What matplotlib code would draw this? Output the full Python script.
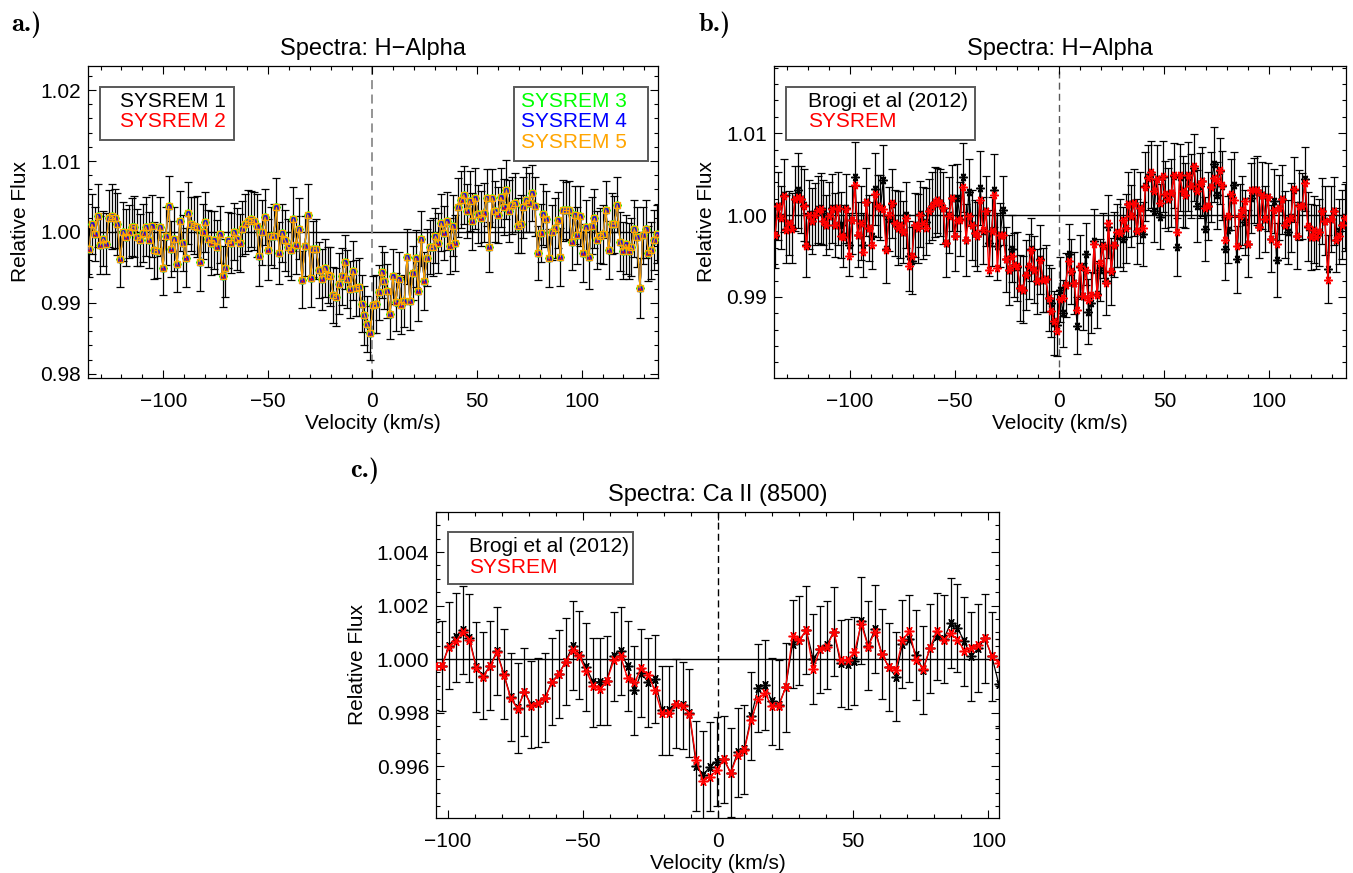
"""
Relative flux around H-alpha and Ca II (8500) in velocity space,
SYSREM-cleaned spectra compared with the Brogi et al (2012) reduction.
"""

import numpy as np
import matplotlib.pyplot as plt
from matplotlib.patches import Rectangle
from matplotlib.ticker import MultipleLocator

plt.rcParams['font.family'] = ['Liberation Sans', 'DejaVu Sans']

# ---- H-alpha data (panels a and b) ----
velocity_ha = np.linspace(-135.5, 136.0, 201)   # km/s

flux_ha_sysrem = [
    0.99761, 1.00108, 0.99965, 1.00231, 0.99814, 0.99904, 0.99831, 1.00190, 1.00222, 1.00190,
    1.00108, 0.99619, 1.00006, 0.99925, 1.00006, 1.00067, 1.00075, 0.99925, 0.99884, 0.99986,
    1.00075, 0.99884, 1.00084, 0.99741, 0.99733, 1.00075, 0.99496, 0.99937, 1.00361, 0.99761,
    0.99904, 0.99545, 1.00157, 0.99843, 0.99639, 1.00263, 1.00108, 1.00088, 1.00075, 0.99578,
    1.00006, 1.00141, 0.99904, 0.99843, 0.99884, 0.99790, 0.99965, 0.99374, 0.99496, 0.99884,
    0.99843,
    1.00006, 0.99904, 0.99843, 1.00047, 1.00108, 1.00157, 1.00182, 1.00149, 1.00088, 0.99659,
    0.99994, 1.00210, 0.99749, 0.99945, 0.99945, 1.00345, 0.99700, 0.99986, 0.99884, 0.99782,
    0.99741, 1.00182, 0.99814, 1.00047, 0.99325, 0.99802, 1.00239, 0.99353, 0.99761, 0.99761,
    0.99463, 0.99333, 0.99496, 0.99394, 0.99374, 0.99109, 0.99088, 0.99272, 0.99374, 0.99578,
    0.99333, 0.99190, 0.99455, 0.99210, 0.99219, 0.98986, 0.98823, 0.98700, 0.98578, 0.98974,
    0.98986,
    0.99149, 0.99435, 0.99312, 0.99170, 0.98843, 0.99374, 0.99006, 0.99333, 0.98966, 0.99027,
    0.99651, 0.99027, 0.99415, 0.99627, 0.99170, 0.99904, 0.99312, 0.99639, 0.99790, 0.99782,
    0.99945, 0.99843, 1.00129, 0.99986, 1.00149, 0.99802, 1.00088, 0.99843, 1.00345, 1.00455,
    1.00524, 1.00292, 1.00435, 1.00149, 1.00475, 1.00251, 1.00190, 1.00271, 1.00483, 0.99790,
    1.00483, 1.00292, 1.00239, 1.00488, 1.00353, 1.00598, 1.00292, 1.00373,
    1.00414, 1.00088, 1.00108, 1.00345, 1.00455, 1.00414, 1.00549, 1.00361, 0.99700, 0.99986,
    1.00251, 1.00182, 0.99627, 0.99994, 1.00059, 1.00169, 0.99651, 1.00304, 1.00304, 1.00304,
    0.99855, 1.00239, 0.99953, 1.00222, 0.99708, 1.00067, 0.99651, 1.00088, 1.00190, 0.99884,
    0.99945, 0.99965, 1.00312, 0.99749, 1.00116, 1.00108, 1.00386, 0.99863, 0.99733, 0.99823,
    0.99733, 0.99790, 1.00047, 0.99925, 0.99210, 0.99953, 1.00047, 0.99700, 0.99741, 0.99884,
    0.99965,
]

flux_ha_brogi = [
    0.9975, 1.0011, 0.9997, 1.0024, 0.9983, 0.9990, 0.9984, 1.0020, 1.0030, 1.0019,
    1.0012, 0.9963, 1.0001, 0.9993, 1.0001, 1.0007, 1.0008, 1.0003, 0.9988, 0.9999,
    1.0008, 0.9988, 1.0008, 0.9988, 0.9974, 1.0008, 0.9964, 0.9994, 1.0046, 0.9976,
    0.9990, 0.9963, 1.0016, 0.9984, 0.9975, 1.0032, 1.0011, 1.0009, 1.0043, 0.9958,
    0.9995, 1.0014, 0.9990, 0.9984, 0.9988, 0.9979, 1.0000, 0.9950, 0.9944, 0.9988,
    0.9984,
    1.0001, 0.9990, 0.9992, 1.0005, 1.0011, 1.0016, 1.0018, 1.0015, 1.0009, 0.9966,
    1.0000, 1.0021, 0.9975, 1.0021, 0.9995, 1.0046, 0.9970, 1.0028, 0.9988, 0.9978,
    0.9974, 1.0033, 0.9981, 1.0005, 0.9966, 0.9980, 1.0030, 0.9962, 0.9976, 1.0006,
    0.9946, 0.9933, 0.9959, 0.9939, 0.9937, 0.9911, 0.9909, 0.9927, 0.9937, 0.9958,
    0.9933, 0.9919, 0.9946, 0.9921, 0.9922, 0.9899, 0.9893, 0.9868, 0.9866, 0.9909,
    0.9880,
    0.9915, 0.9952, 0.9931, 0.9917, 0.9865, 0.9937, 0.9901, 0.9952, 0.9882, 0.9893,
    0.9968, 0.9903, 0.9933, 0.9963, 0.9920, 0.9986, 0.9931, 0.9964, 0.9975, 0.9978,
    0.9971, 0.9984, 1.0013, 0.9999, 1.0015, 0.9980, 1.0009, 0.9977, 1.0035, 1.0046,
    1.0050, 1.0005, 1.0044, 0.9998, 1.0047, 1.0025, 1.0019, 1.0027, 1.0048, 0.9961,
    1.0046, 1.0029, 1.0024, 1.0047, 1.0035, 1.0058, 1.0011, 1.0036,
    1.0041, 0.9983, 1.0011, 1.0034, 1.0062, 1.0024, 1.0054, 1.0036, 0.9959, 0.9982,
    1.0025, 1.0037, 0.9946, 0.9999, 1.0006, 0.9991, 0.9965, 1.0021, 1.0030, 1.0030,
    0.9986, 1.0024, 0.9995, 1.0022, 0.9971, 1.0017, 0.9945, 1.0009, 1.0019, 0.9988,
    0.9979, 0.9997, 1.0031, 0.9975, 1.0012, 1.0011, 1.0044, 0.9986, 0.9973, 0.9982,
    0.9973, 0.9979, 1.0005, 0.9993, 0.9934, 0.9995, 1.0005, 0.9970, 0.9980, 0.9988,
    0.9997,
]

err_ha = [
    0.0040, 0.0042, 0.0038, 0.0045, 0.0041, 0.0039, 0.0043, 0.0040, 0.0046, 0.0041,
    0.0044, 0.0039, 0.0042, 0.0040, 0.0038, 0.0041, 0.0043, 0.0040, 0.0037, 0.0041,
    0.0042, 0.0039, 0.0044, 0.0040, 0.0038, 0.0042, 0.0039, 0.0041, 0.0043, 0.0040,
    0.0045, 0.0039, 0.0042, 0.0040, 0.0041, 0.0044, 0.0038, 0.0040, 0.0043, 0.0041,
    0.0039, 0.0042, 0.0040, 0.0045, 0.0041, 0.0038, 0.0040, 0.0043, 0.0041, 0.0039,
    0.0042, 0.0040, 0.0044, 0.0041, 0.0039, 0.0042, 0.0043, 0.0040, 0.0041, 0.0044,
    0.0042, 0.0046, 0.0040, 0.0043, 0.0041, 0.0045, 0.0042, 0.0044, 0.0041, 0.0043,
    0.0040, 0.0042, 0.0045, 0.0041, 0.0043, 0.0040, 0.0042, 0.0044, 0.0041, 0.0039,
    0.0042, 0.0040, 0.0043, 0.0041, 0.0039, 0.0042, 0.0040, 0.0041, 0.0043, 0.0040,
    0.0038, 0.0041, 0.0040, 0.0042, 0.0039, 0.0041, 0.0040, 0.0042, 0.0039, 0.0038,
    0.0040, 0.0041, 0.0039, 0.0037, 0.0040, 0.0038, 0.0035, 0.0039, 0.0041, 0.0038,
    0.0040, 0.0037, 0.0039, 0.0041, 0.0038, 0.0040, 0.0042, 0.0039, 0.0041, 0.0040,
    0.0038, 0.0041, 0.0039, 0.0042, 0.0040, 0.0038, 0.0041, 0.0040, 0.0043, 0.0039,
    0.0042, 0.0040, 0.0041, 0.0038, 0.0042, 0.0040, 0.0043, 0.0041, 0.0039, 0.0042,
    0.0040, 0.0035, 0.0041, 0.0043, 0.0040, 0.0042, 0.0039, 0.0041, 0.0044, 0.0040,
    0.0042, 0.0039, 0.0041, 0.0043, 0.0046, 0.0041, 0.0040, 0.0042, 0.0038, 0.0041,
    0.0043, 0.0040, 0.0041, 0.0039, 0.0042, 0.0040, 0.0041, 0.0043, 0.0040, 0.0042,
    0.0039, 0.0041, 0.0040, 0.0042, 0.0041, 0.0039, 0.0045, 0.0040, 0.0042, 0.0041,
    0.0039, 0.0042, 0.0040, 0.0041, 0.0043, 0.0040, 0.0039, 0.0042, 0.0040, 0.0041,
    0.0039, 0.0041, 0.0040, 0.0042, 0.0042, 0.0040, 0.0041, 0.0039, 0.0040, 0.0042,
    0.0041,
]

# SYSREM iterations 1-5 in panel a overlap almost perfectly
sysrem_labels = ['SYSREM 1', 'SYSREM 2', 'SYSREM 3', 'SYSREM 4', 'SYSREM 5']
sysrem_colors = ['black', 'red', '#00ff00', 'blue', 'orange']
sysrem_markers = [(6, 2, 90), (6, 2, 90), 'D', '^', 's']
sysrem_runs = [flux_ha_sysrem] * 5

# ---- Ca II (8500) data (panel c) ----
velocity_ca = np.linspace(-104.75, 103.8, 83)   # km/s

flux_ca_sysrem = [
    0.99975,
    0.99975, 1.00045, 1.00066, 1.00100, 1.00072, 0.99966, 0.99935, 0.99973, 1.00025, 0.99941,
    0.99854, 0.99814, 0.99878, 0.99825, 0.99835, 0.99854, 0.99913, 0.99944, 0.99991, 1.00035,
    1.00010, 0.99954, 0.99900, 0.99888, 0.99920, 0.99995, 1.00010,
    0.99929, 0.99913, 0.99965, 0.99941, 0.99883, 0.99798, 0.99798, 0.99831, 0.99825, 0.99796,
    0.99621, 0.99545, 0.99561, 0.99584, 0.99626, 0.99574, 0.99642, 0.99661, 0.99773, 0.99850,
    0.99873, 0.99823, 0.99825, 0.99894, 1.00085, 1.00070, 1.00109,
    0.99963, 1.00037, 1.00045, 1.00103, 0.99998, 0.99998, 1.00025, 1.00131, 1.00047, 1.00103,
    1.00019, 0.99970, 0.99960, 1.00070, 1.00106, 0.99998, 0.99963, 1.00041, 1.00106, 1.00072,
    1.00097, 1.00072, 1.00032, 1.00041, 1.00052, 1.00078, 1.00012, 0.99985,
]

flux_ca_brogi = [
    0.99975,
    0.99975, 1.00050, 1.00081, 1.00109, 1.00078, 0.99970, 0.99938, 0.99975, 1.00029, 0.99945,
    0.99858, 0.99817, 0.99878, 0.99829, 0.99837, 0.99856, 0.99916, 0.99945, 0.99991, 1.00050,
    1.00016, 0.99970, 0.99913, 0.99916, 0.99920, 1.00010, 1.00029,
    0.99973, 0.99883, 0.99948, 0.99913, 0.99925, 0.99808, 0.99808, 0.99833, 0.99828, 0.99798,
    0.99602, 0.99567, 0.99598, 0.99617, 0.99626, 0.99576, 0.99651, 0.99663, 0.99786, 0.99892,
    0.99903, 0.99842, 0.99829, 0.99894, 1.00057, 1.00070, 1.00109,
    1.00000, 1.00037, 1.00053, 1.00103, 0.99984, 0.99982, 0.99994, 1.00143, 1.00050, 1.00112,
    1.00019, 0.99970, 0.99935, 1.00057, 1.00076, 1.00016, 0.99958, 1.00041, 1.00085, 1.00075,
    1.00134, 1.00116, 1.00066, 1.00010, 1.00041, 1.00078, 1.00010, 0.99908,
]

err_ca = [
    0.00165, 0.00168, 0.00163, 0.00166, 0.00165, 0.00164, 0.00167, 0.00162, 0.00166, 0.00165,
    0.00168, 0.00164, 0.00169, 0.00165, 0.00163, 0.00166, 0.00167, 0.00164, 0.00165, 0.00162,
    0.00166, 0.00165, 0.00164, 0.00167, 0.00163, 0.00165, 0.00166, 0.00164, 0.00168, 0.00165,
    0.00163, 0.00166, 0.00164, 0.00167, 0.00165, 0.00166, 0.00163, 0.00165, 0.00168, 0.00164,
    0.00166, 0.00165, 0.00163, 0.00167, 0.00165, 0.00166, 0.00164, 0.00165, 0.00167, 0.00163,
    0.00166, 0.00165, 0.00164, 0.00166, 0.00165, 0.00167, 0.00163, 0.00165, 0.00166, 0.00164,
    0.00168, 0.00165, 0.00163, 0.00166, 0.00165, 0.00167, 0.00164, 0.00166, 0.00165, 0.00163,
    0.00167, 0.00165, 0.00166, 0.00164, 0.00165, 0.00168, 0.00163, 0.00166, 0.00165, 0.00164,
    0.00166, 0.00165, 0.00167,
]

ASTER = (6, 2, 90)   # IDL-like asterisk symbol


def idl_axes(ax, xlim, ylim, ymajor, yminor, title):
    ax.set_xlim(*xlim)
    ax.set_ylim(*ylim)
    ax.xaxis.set_major_locator(MultipleLocator(50))
    ax.xaxis.set_minor_locator(MultipleLocator(10))
    ax.yaxis.set_major_locator(MultipleLocator(ymajor))
    ax.yaxis.set_minor_locator(MultipleLocator(yminor))
    ax.ticklabel_format(axis='y', useOffset=False)
    ax.tick_params(which='both', direction='in', top=True, right=True, width=0.8)
    ax.tick_params(which='major', length=5.5, labelsize=15)
    ax.tick_params(axis='x', which='major', pad=10)
    ax.tick_params(axis='y', which='major', pad=5)
    ax.tick_params(which='minor', length=3)
    for sp in ax.spines.values():
        sp.set_linewidth(0.9)
    ax.set_xlabel('Velocity (km/s)', fontsize=15, labelpad=2)
    ax.set_ylabel('Relative Flux', fontsize=15, labelpad=7)
    ax.set_title(title, fontsize=17, pad=8)
    ax.axhline(1.0, color='black', lw=1.0, zorder=1)


def text_box(ax, x0, x1, y0, y1, tx, entries):
    ax.add_patch(Rectangle((x0, y0), x1 - x0, y1 - y0, transform=ax.transAxes,
                           facecolor='white', edgecolor='0.35', lw=1.4, zorder=6))
    for label, color, ty in entries:
        ax.text(tx, ty, label, color=color, fontsize=15, transform=ax.transAxes,
                ha='left', va='center', zorder=7)


fig = plt.figure(figsize=(13.53, 8.73), dpi=100)
ax_a = fig.add_axes([0.06504, 0.56701, 0.42129, 0.35739])
ax_b = fig.add_axes([0.57206, 0.56701, 0.42276, 0.35739])
ax_c = fig.add_axes([0.32225, 0.06300, 0.41611, 0.35052])

# panel a: SYSREM iterations
idl_axes(ax_a, (-136.0, 136.5), (0.9794, 1.0234), 0.01, 0.002, 'Spectra: H\u2212Alpha')
ax_a.axvline(0, color='0.55', ls=(0, (5, 3)), lw=1.3, zorder=1)
ax_a.errorbar(velocity_ha, sysrem_runs[0], yerr=err_ha, fmt='none', ecolor='black',
              elinewidth=0.9, capsize=3, capthick=0.9, zorder=2)
for flux, color, marker in zip(sysrem_runs, sysrem_colors, sysrem_markers):
    filled = marker == ASTER
    ax_a.plot(velocity_ha, flux, color=color, lw=0.9, marker=marker,
              markersize=5 if filled else 4.5, markeredgewidth=1.0,
              markerfacecolor=color if filled else 'none', zorder=3)
text_box(ax_a, 0.021, 0.256, 0.763, 0.933, 0.056,
         [(sysrem_labels[0], sysrem_colors[0], 0.886),
          (sysrem_labels[1], sysrem_colors[1], 0.8215)])
text_box(ax_a, 0.747, 0.982, 0.696, 0.933, 0.760,
         [(sysrem_labels[2], sysrem_colors[2], 0.886),
          (sysrem_labels[3], sysrem_colors[3], 0.8215),
          (sysrem_labels[4], sysrem_colors[4], 0.755)])

# panel b: Brogi et al vs SYSREM, H-alpha
idl_axes(ax_b, (-136.0, 136.5), (0.9801, 1.0182), 0.01, 0.002, 'Spectra: H\u2212Alpha')
ax_b.axvline(0, color='0.35', ls=(0, (5, 3)), lw=1.0, zorder=1)
ax_b.errorbar(velocity_ha, flux_ha_brogi, yerr=err_ha, fmt='none', ecolor='black',
              elinewidth=0.9, capsize=3, capthick=0.9, zorder=2)
ax_b.plot(velocity_ha, flux_ha_brogi, color='black', lw=0.9, marker=ASTER,
          markersize=6, markeredgewidth=1.1, zorder=3)
ax_b.plot(velocity_ha, flux_ha_sysrem, color='red', lw=1.0, marker=ASTER,
          markersize=6, markeredgewidth=1.1, zorder=4)
text_box(ax_b, 0.021, 0.351, 0.763, 0.933, 0.059,
         [('Brogi et al (2012)', 'black', 0.886), ('SYSREM', 'red', 0.8215)])

# panel c: Brogi et al vs SYSREM, Ca II
idl_axes(ax_c, (-104.4, 103.9), (0.99406, 1.0055), 0.002, 0.0005, 'Spectra: Ca II (8500)')
ax_c.axvline(0, color='black', ls=(0, (5, 3)), lw=1.0, zorder=1)
ax_c.errorbar(velocity_ca, flux_ca_brogi, yerr=err_ca, fmt='none', ecolor='black',
              elinewidth=0.9, capsize=3, capthick=0.9, zorder=2)
ax_c.plot(velocity_ca, flux_ca_brogi, color='black', lw=0.9, marker=ASTER,
          markersize=7, markeredgewidth=1.1, zorder=3)
ax_c.plot(velocity_ca, flux_ca_sysrem, color='red', lw=1.0, marker=ASTER,
          markersize=7, markeredgewidth=1.1, zorder=4)
text_box(ax_c, 0.0213, 0.35, 0.765, 0.935, 0.0586,
         [('Brogi et al (2012)', 'black', 0.887), ('SYSREM', 'red', 0.819)])

# panel letters
for x, y, lab in [(11, 11, 'a.)'), (699, 11, 'b.)'), (350, 458, 'c.)')]:
    fig.text(x / 1353, 1 - y / 873, lab, family='cmb10', fontsize=19, va='top', ha='left')

fig.savefig('out.png', dpi=100)
